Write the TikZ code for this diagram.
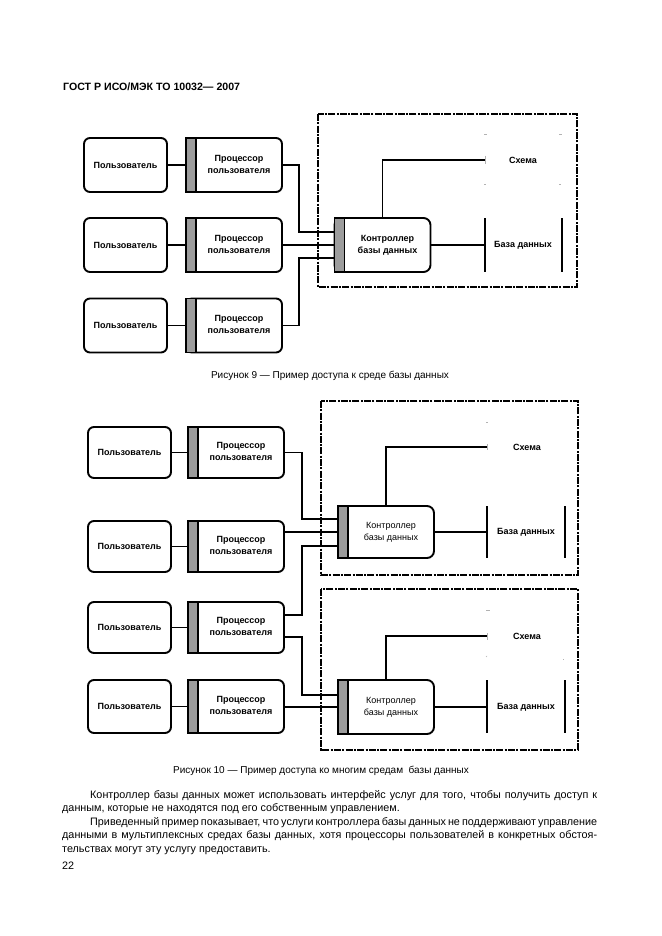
\documentclass[tikz,border=0pt]{standalone}
\usepackage{fontspec}
\setmainfont{Liberation Sans}
\definecolor{bargray}{HTML}{9C9C9C}
\tikzset{
  rbox/.style={draw, line width=1.9pt, rounded corners=6pt, inner sep=0pt},
  nodefont/.style={font=\bfseries\fontsize{9}{12}\selectfont},
  userbox/.style={rbox, nodefont, minimum width=83pt},
  procbox/.style={rbox, nodefont, minimum width=96pt},
  ctrlbox/.style={rbox, nodefont, minimum width=96pt, rounded corners=7pt},
  graybar/.style={draw, line width=1.9pt, fill=bargray, minimum width=10pt, inner sep=0pt, anchor=north west},
  conn/.style={line width=1.7pt},
  dbframe/.style={line width=2.2pt, dash pattern=on 7pt off 1.3pt on 2pt off 1.3pt},
  dbline/.style={line width=2pt},
  lbl/.style={nodefont, inner sep=0pt},
  faint/.style={draw=black!30, line width=0.6pt},
  bodytext/.style={font=\fontsize{10.8}{13}\selectfont, inner sep=0pt, anchor=base west},
  capt/.style={font=\fontsize{10}{12}\selectfont, inner sep=0pt, anchor=base},
}
\newcommand{\proctext}{\hspace*{10pt}\begin{tabular}{@{}c@{}}Процессор\\пользователя\end{tabular}}
\newcommand{\ctrltext}{\hspace*{10pt}\begin{tabular}{@{}c@{}}Контроллер\\базы данных\end{tabular}}
\begin{document}
\begin{tikzpicture}[x=1pt, y=-1pt]
\fill[white] (0,0) rectangle (661,936);
\useasboundingbox (0,0) rectangle (661,936);

% header
\node[anchor=base west, font=\bfseries\fontsize{10.6}{12}\selectfont, inner sep=0pt] (hdr) at (63,91) {ГОСТ Р ИСО/МЭК ТО 10032— 2007};

% ================= Figure 9 =================
\draw[dbframe] (318,114) rectangle (577,287);

\node[userbox, minimum height=54pt] (u91) at (125.5,165) {Пользователь};
\node[userbox, minimum height=54pt] (u92) at (125.5,245) {Пользователь};
\node[userbox, minimum height=54pt] (u93) at (125.5,325.5) {Пользователь};

\node[procbox, minimum height=54pt] (p91) at (234,165) {\proctext};
\node[procbox, minimum height=54pt] (p92) at (234,245) {\proctext};
\node[procbox, minimum height=54pt] (p93) at (234,325.5) {\proctext};
\node[graybar, minimum height=54pt] (p91b) at (p91.north west) {};
\node[graybar, minimum height=54pt] (p92b) at (p92.north west) {};
\node[graybar, minimum height=54pt] (p93b) at (p93.north west) {};

\node[ctrlbox, minimum height=54pt] (c9) at (382.5,245) {\ctrltext};
\node[graybar, minimum height=54pt] (c9b) at (c9.north west) {};

\draw[conn] (u91.east) -- (p91b.west);
\draw[conn] (u92.east) -- (p92b.west);
\draw[conn] (u93.east) -- (p93b.west);

\draw[conn] (p91.east) -- ++(16,0) |- ([yshift=13pt]c9.west);
\draw[conn] (p92.east) -- (c9.west);
\draw[conn] (p93.east) -- ++(16,0) |- ([yshift=-13pt]c9.west);

\coordinate (s9) at (485,160);
\node[lbl] (sch9) at (523,160) {Схема};
\draw[conn] (c9.north) |- (s9);
\draw[faint] (484,134) -- (487,134);
\draw[faint] (559,134) -- (562,134);
\draw[faint] (484,184) -- (486,184);
\draw[faint] (559,184) -- (561,184);
\draw[faint] (485,156) -- (485,164);

\coordinate (d9a) at (485,218);
\coordinate (d9b) at (485,272);
\coordinate (d9c) at (562,218);
\coordinate (d9d) at (562,272);
\draw[dbline] (d9a) -- (d9b);
\draw[dbline] (d9c) -- (d9d);
\node[lbl] (db9) at (523,245) {База данных};
\draw[conn] (c9.east) -- (c9.east -| d9a);

\node[capt] (cap9) at (330,378) {Рисунок 9 — Пример доступа к среде базы данных};

% ================= Figure 10 =================
\draw[dbframe] (321,401) rectangle (578,575);
\draw[dbframe] (321,589) rectangle (578,750);

\node[userbox, minimum height=51pt] (u1) at (129.5,452.5) {Пользователь};
\node[userbox, minimum height=51pt] (u2) at (129.5,546.5) {Пользователь};
\node[userbox, minimum height=51pt] (u3) at (129.5,627.5) {Пользователь};
\node[userbox, minimum height=53pt] (u4) at (129.5,706.5) {Пользователь};

\node[procbox, minimum height=51pt] (p1) at (236,452.5) {\proctext};
\node[procbox, minimum height=51pt] (p2) at (236,546.5) {\proctext};
\node[procbox, minimum height=51pt] (p3) at (236,627.5) {\proctext};
\node[procbox, minimum height=53pt] (p4) at (236,706.5) {\proctext};
\node[graybar, minimum height=51pt] (p1b) at (p1.north west) {};
\node[graybar, minimum height=51pt] (p2b) at (p2.north west) {};
\node[graybar, minimum height=51pt] (p3b) at (p3.north west) {};
\node[graybar, minimum height=53pt] (p4b) at (p4.north west) {};

\node[ctrlbox, minimum height=52pt, font=\fontsize{9}{12}\selectfont] (ca) at (386,532) {\ctrltext};
\node[graybar, minimum height=52pt] (cab) at (ca.north west) {};
\node[ctrlbox, minimum height=54pt, font=\fontsize{9}{12}\selectfont] (cb) at (386,707) {\ctrltext};
\node[graybar, minimum height=54pt] (cbb) at (cb.north west) {};

\draw[conn] (u1.east) -- (p1b.west);
\draw[conn] (u2.east) -- (p2b.west);
\draw[conn] (u3.east) -- (p3b.west);
\draw[conn] (u4.east) -- (p4b.west);

\draw[conn] (p1.east) -- ++(17,0) |- ([yshift=13pt]ca.west);
\draw[conn] (ca.west -| p2.east) -- (ca.west);
\draw[conn] ([yshift=12.5pt]p3.east) -- ++(17,0) |- ([yshift=-14pt]ca.west);
\draw[conn] ([yshift=-9.5pt]p3.east) -- ++(17,0) |- ([yshift=12pt]cb.west);
\draw[conn] (cb.west -| p4.east) -- (cb.west);

% schema, upper
\coordinate (sa) at (487,447);
\node[lbl] (scha) at (527,447) {Схема};
\draw[conn] (ca.north) |- (sa);
\draw[faint] (486,422) -- (488,422);
\draw[faint] (487,444) -- (487,450);
% schema, lower
\coordinate (sb) at (487,636);
\node[lbl] (schb) at (527,636) {Схема};
\draw[conn] (cb.north) |- (sb);
\draw[faint] (486,610) -- (490,610);
\draw[faint] (486,657) -- (487,656);
\draw[faint] (563,659) -- (564,659);
\draw[faint] (487,633) -- (487,640);

% databases
\coordinate (daa) at (487,506);
\coordinate (dab) at (487,558);
\coordinate (dac) at (565,506);
\coordinate (dad) at (565,558);
\draw[dbline] (daa) -- (dab);
\draw[dbline] (dac) -- (dad);
\node[lbl] (dba) at (526,532) {База данных};
\draw[conn] (ca.east) -- (ca.east -| daa);

\coordinate (dba1) at (487,680);
\coordinate (dbb1) at (487,733);
\coordinate (dbc1) at (565,680);
\coordinate (dbd1) at (565,733);
\draw[dbline] (dba1) -- (dbb1);
\draw[dbline] (dbc1) -- (dbd1);
\node[lbl] (dbb) at (526,707) {База данных};
\draw[conn] (cb.east) -- (cb.east -| dba1);

\node[capt] (cap10) at (321,773) {Рисунок 10 — Пример доступа ко многим средам\ \ базы данных};

% ================= body text =================
\node[bodytext] (t1) at (90,798) {\makebox[507pt][s]{Контроллер базы данных может использовать интерфейс услуг для того, чтобы получить доступ к}};
\node[bodytext] (t2) at (62,811.5) {данным, которые не находятся под его собственным управлением.};
\node[bodytext] (t3) at (90,825) {\makebox[507pt][s]{Приведенный пример показывает, что услуги контроллера базы данных не поддерживают управление}};
\node[bodytext] (t4) at (62,838.5) {\makebox[535pt][s]{данными в мультиплексных средах базы данных, хотя процессоры пользователей в конкретных обстоя-}};
\node[bodytext] (t5) at (62,852) {тельствах могут эту услугу предоставить.};
\node[bodytext] (pg) at (62,869) {22};
\end{tikzpicture}
\end{document}
